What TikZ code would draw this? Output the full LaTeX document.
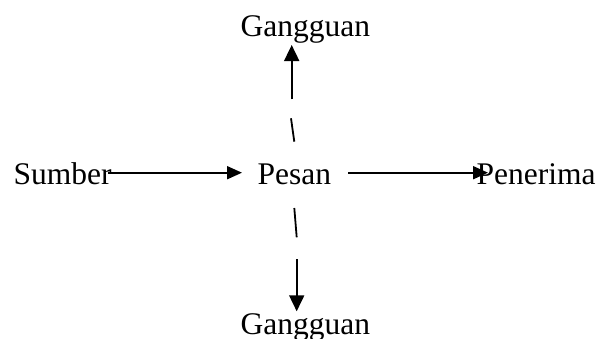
\documentclass[tikz,border=0pt]{standalone}
\usepackage{fontspec}
\setmainfont{Liberation Serif}
\usetikzlibrary{arrows.meta}
\begin{document}
\begin{tikzpicture}[x=1pt,y=-1pt,
  lbl/.style={anchor=base west,inner sep=0pt,font=\fontsize{31.5}{36}\selectfont},
  conn/.style={line width=1.8pt,-{Triangle[length=15pt,width=13pt]}},
  vconn/.style={line width=1.8pt,-{Triangle[length=16pt,width=15pt]}},
  dsh/.style={line width=1.8pt}]
\useasboundingbox (0,0) rectangle (600,338);
\node[lbl] (sumber) at (13.5,184.5) {Sumber};
\node[lbl] (pesan) at (257.5,184.5) {Pesan};
\node[lbl] (penerima) at (476.5,184.5) {Penerima};
\node[lbl] (g1) at (240.5,36.7) {Gangguan};
\node[lbl] (g2) at (240.5,334.7) {Gangguan};
% horizontal arrows
\coordinate (a1) at (108,172.7);
\coordinate (a2) at (242,172.7);
\coordinate (b1) at (348.3,172.7);
\coordinate (b2) at (488,172.7);
\draw[conn] (a1) -- (a2);
\draw[conn] (b1) -- (b2);
% upward
\coordinate (u1) at (294.3,141.7);
\coordinate (u2) at (291,118.3);
\coordinate (u3) at (291.7,99.3);
\coordinate (u4) at (291.7,45);
\draw[dsh] (u1) -- (u2);
\draw[vconn] (u3) -- (u4);
% downward
\coordinate (d1) at (294.3,208);
\coordinate (d2) at (296.7,237.3);
\coordinate (d3) at (296.7,259);
\coordinate (d4) at (296.7,311.3);
\draw[dsh] (d1) -- (d2);
\draw[vconn] (d3) -- (d4);
\end{tikzpicture}
\end{document}
